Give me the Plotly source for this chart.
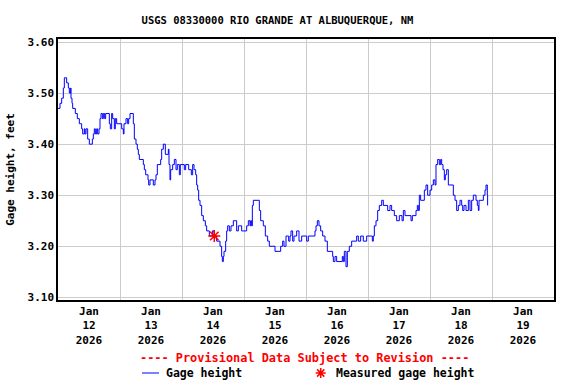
import pandas as pd
import plotly.graph_objects as go

# Gage height readings: hours since 2026-01-12 00:00 and value (feet)
HOURS = [0.0, 0.77, 1.42, 2.06, 2.45, 3.35, 4.0, 4.39, 4.9, 5.03, 5.42, 5.68, 6.71, 7.48, 8.26,
         9.16, 9.55, 10.19, 10.45, 10.84, 11.48, 12.13, 13.29, 13.68, 14.06, 14.45, 14.97, 15.35,
         15.87, 16.26, 16.65, 17.16, 17.55, 18.06, 18.45, 19.87, 20.26, 20.77, 21.16, 21.81, 22.19,
         22.71, 24.65, 25.29, 25.55, 26.32, 26.97, 27.35, 27.87, 29.16, 29.55, 30.19, 30.71, 31.1,
         31.48, 33.03, 33.42, 33.94, 34.84, 35.1, 35.61, 36.9, 37.55, 37.93, 38.45, 39.74, 40.13,
         40.77, 41.55, 42.71, 42.97, 43.35, 43.61, 44.39, 45.03, 45.68, 46.19, 46.97, 47.35, 48.9,
         49.42, 50.58, 51.61, 52.13, 52.65, 53.29, 53.68, 54.06, 54.45, 54.97, 55.61, 56.26, 57.03,
         57.55, 58.58, 59.74, 60.39, 61.42, 62.71, 63.35, 63.61, 64.0, 64.26, 64.9, 65.29, 65.68,
         66.32, 66.97, 67.87, 69.16, 69.81, 71.1, 73.03, 73.68, 74.32, 74.58, 74.97, 75.23, 75.61,
         77.94, 78.45, 79.48, 80.26, 81.16, 81.81, 84.0, 86.19, 86.97, 87.48, 88.26, 89.29, 89.81,
         90.19, 90.84, 91.35, 92.39, 93.29, 94.32, 96.26, 96.9, 99.48, 99.87, 100.39, 101.03,
         101.68, 102.45, 103.35, 104.26, 106.32, 106.58, 107.23, 107.87, 110.06, 110.45, 110.84,
         111.48, 112.0, 112.77, 113.68, 115.61, 116.26, 117.16, 118.19, 119.48, 121.68, 122.06,
         122.45, 123.1, 123.74, 124.39, 125.29, 125.94, 127.61, 128.52, 129.16, 130.19, 131.1,
         132.13, 133.16, 133.68, 134.32, 136.65, 137.16, 138.58, 139.1, 139.48, 139.87, 140.39,
         141.81, 142.45, 143.1, 144.0, 144.65, 145.29, 145.94, 146.32, 146.97, 147.61, 148.13,
         148.52, 149.03, 149.55, 149.94, 150.45, 151.1, 153.03, 153.68, 154.32, 154.97, 155.61,
         156.26, 156.65, 157.16, 157.94, 158.84, 159.48, 160.13, 160.77, 161.81, 162.32, 162.71,
         162.97, 164.65, 165.29, 165.68, 166.19, 166.3]
GAGE = [3.47, 3.48, 3.49, 3.51, 3.53, 3.52, 3.51, 3.50, 3.51, 3.49, 3.48, 3.47, 3.46, 3.45, 3.44,
        3.43, 3.42, 3.43, 3.42, 3.43, 3.41, 3.40, 3.41, 3.42, 3.43, 3.42, 3.43, 3.42,
        3.43, 3.45, 3.46, 3.45, 3.46, 3.45, 3.46, 3.44, 3.43, 3.46, 3.45, 3.43, 3.45,
        3.44, 3.43, 3.42, 3.44, 3.45, 3.44, 3.45, 3.46, 3.44, 3.41, 3.40, 3.39, 3.38,
        3.37, 3.36, 3.35, 3.34, 3.33, 3.32, 3.33, 3.32, 3.33, 3.34, 3.36, 3.37, 3.39,
        3.40, 3.38, 3.39, 3.36, 3.33, 3.35, 3.36, 3.37, 3.35, 3.36, 3.34, 3.36, 3.35,
        3.36, 3.35, 3.34, 3.36, 3.35, 3.34, 3.32, 3.31, 3.29, 3.28, 3.26, 3.25, 3.24,
        3.23, 3.22, 3.23, 3.22, 3.21, 3.20, 3.18, 3.17, 3.18, 3.19, 3.21, 3.23, 3.24,
        3.23, 3.24, 3.25, 3.23, 3.24, 3.23, 3.24, 3.25, 3.24, 3.25, 3.24, 3.28, 3.29,
        3.27, 3.25, 3.24, 3.22, 3.21, 3.20, 3.19, 3.20, 3.21, 3.20, 3.22, 3.21, 3.22,
        3.23, 3.21, 3.22, 3.23, 3.21, 3.22, 3.21, 3.22, 3.23, 3.24, 3.25, 3.24,
        3.23, 3.22, 3.21, 3.19, 3.18, 3.17, 3.18, 3.17, 3.18, 3.17, 3.19,
        3.16, 3.19, 3.20, 3.21, 3.22, 3.21, 3.22, 3.21, 3.22, 3.21, 3.22,
        3.24, 3.25, 3.27, 3.28, 3.29, 3.28, 3.27, 3.28, 3.27, 3.26, 3.25,
        3.26, 3.25, 3.27, 3.26, 3.25, 3.26, 3.27, 3.28, 3.27, 3.30, 3.29,
        3.31, 3.32, 3.30, 3.31, 3.32, 3.33, 3.32, 3.36, 3.37, 3.36, 3.37,
        3.36, 3.35, 3.33, 3.34, 3.35, 3.32, 3.30, 3.29, 3.27, 3.28, 3.29,
        3.28, 3.27, 3.28, 3.27, 3.29, 3.27, 3.29, 3.30, 3.29, 3.28, 3.27,
        3.29, 3.30, 3.31, 3.32, 3.30, 3.28]

# Field measurement
MEAS_HOURS = [60.5]
MEAS_GAGE = [3.22]

DAYS = [12, 13, 14, 15, 16, 17, 18, 19]
Y_TICKS = [3.10, 3.20, 3.30, 3.40, 3.50, 3.60]

base = pd.Timestamp("2026-01-12 00:00")
x = base + pd.to_timedelta(HOURS, unit="h")
mx = base + pd.to_timedelta(MEAS_HOURS, unit="h")

FONT = "DejaVu Sans Mono"
L, R, T, B = 58, 554, 39, 300
PW, PH = R - L, B - T
Y0, Y1 = 3.0947, 3.606


def px(xp):
    return (xp - L) / PW


def py(yp):
    return (B - yp) / PH


fig = go.Figure()
fig.add_trace(go.Scatter(x=x, y=GAGE, mode="lines", line=dict(color="#0000ff", width=1, shape="hv"),
                         name="Gage height", showlegend=False))
fig.add_trace(go.Scatter(x=mx, y=MEAS_GAGE, mode="markers", name="Measured gage height", showlegend=False,
                         marker=dict(symbol="asterisk-open", size=10, color="#ff0000",
                                     line=dict(color="#ff0000", width=1.5))))

tickvals = [pd.Timestamp(2026, 1, d, 12) for d in DAYS]
ticktext = [f"Jan<br>{d}<br>2026" for d in DAYS]
minorvals = [pd.Timestamp(2026, 1, d) for d in DAYS[1:]]

# legend key asterisk drawn as a path in paper units
cx, cy = px(320.7), py(373)
hx, hy = 5 / PW, 5 / PH
dx, dy = 3.6 / PW, 3.6 / PH
star = (f"M{cx - hx},{cy} L{cx + hx},{cy} M{cx},{cy - hy} L{cx},{cy + hy} "
        f"M{cx - dx},{cy - dy} L{cx + dx},{cy + dy} M{cx - dx},{cy + dy} L{cx + dx},{cy - dy}")

lab = dict(family=FONT, size=11.5, color="black", weight="bold")
fig.update_layout(
    width=576, height=384,
    margin=dict(l=L, r=576 - R, t=T, b=384 - B, autoexpand=False),
    paper_bgcolor="white", plot_bgcolor="white",
    font=dict(family=FONT, size=11, color="black", weight="bold"),
    title=dict(text="USGS 08330000 RIO GRANDE AT ALBUQUERQUE, NM", x=277.5 / 576, xanchor="center",
               xref="container", y=1 - 20 / 384, yanchor="middle", yref="container",
               font=dict(family=FONT, size=10.5, color="black", weight="bold")),
    showlegend=False,
    xaxis=dict(
        type="date", range=[base, base + pd.Timedelta(days=8)],
        tickmode="array", tickvals=tickvals, ticktext=ticktext, showgrid=False, ticks="",
        showline=True, linecolor="black", linewidth=1.5, mirror=True, zeroline=False,
        minor=dict(tickmode="array", tickvals=minorvals, showgrid=True, gridcolor="#cccccc", gridwidth=1,
                   ticks=""),
    ),
    yaxis=dict(
        range=[Y0, Y1], tickmode="array", tickvals=Y_TICKS, tickformat=".2f",
        showgrid=True, gridcolor="#cccccc", gridwidth=1, ticks="", zeroline=False,
        showline=True, linecolor="black", linewidth=1.5, mirror=True,
        title=dict(text="Gage height, feet", standoff=11, font=dict(family=FONT, size=11, weight="bold")),
    ),
    shapes=[
        dict(type="line", xref="paper", yref="paper", x0=px(142), x1=px(159), y0=py(373), y1=py(373),
             line=dict(color="#0000ff", width=1)),
        dict(type="path", xref="paper", yref="paper", path=star, line=dict(color="#ff0000", width=1.5)),
    ],
    annotations=[
        dict(text="---- Provisional Data Subject to Revision ----", xref="paper", yref="paper",
             x=px(304), y=py(358), xanchor="center", yanchor="middle",
             showarrow=False, font=dict(family=FONT, size=11.9, color="#ff0000", weight="bold")),
        dict(text="Gage height", xref="paper", yref="paper", x=px(164), y=py(373), xanchor="left",
             yanchor="middle", showarrow=False, font=lab),
        dict(text="Measured gage height", xref="paper", yref="paper", x=px(334), y=py(373), xanchor="left",
             yanchor="middle", showarrow=False, font=lab),
    ],
)

fig.write_html("out.html", config={"displayModeBar": False},
               post_script="document.body.style.margin='0';")
